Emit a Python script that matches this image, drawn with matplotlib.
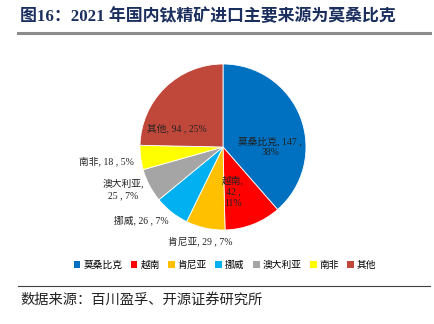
import matplotlib.pyplot as plt
from matplotlib.patches import Patch
from matplotlib.lines import Line2D

plt.rcParams['font.family'] = ['Liberation Serif', 'Noto Sans CJK SC']

# 2021 titanium concentrate imports by source (10k tonnes)
countries = ['莫桑比克', '越南', '肯尼亚', '挪威', '澳大利亚', '南非', '其他']
values = [147, 42, 29, 26, 25, 18, 94]
shares = [38, 11, 7, 7, 7, 5, 25]
colors = ['#0070C0', '#FF0000', '#FFC000', '#00B0F0', '#A5A5A5', '#FFFF00', '#C0483B']

# label text layout: (x, y) in pie units, line breaks
label_pos = [(0.57, 0.0), (0.12, -0.54), (-0.28, -1.14), (-0.98, -0.89),
             (-1.20, -0.51), (-1.40, -0.17), (-0.55, 0.22)]
label_fmt = ['{c}, {v} ,\n{p}%', '{c},\n{v} ,\n{p}%', '{c}, {v} , {p}%',
             '{c}, {v} , {p}%', '{c},\n{v} , {p}%', '{c}, {v} , {p}%',
             '{c}, {v} , {p}%']

W, H = 434, 324
fig = plt.figure(figsize=(W / 100, H / 100), dpi=100)

# title and rules
fig.text(20 / W, 1 - 17 / H, '图16：2021 年国内钛精矿进口主要来源为莫桑比克',
         fontsize=12.2, fontweight='bold', color='#1B2F5E', va='center', ha='left')
fig.add_artist(Line2D([18 / W, 430 / W], [1 - 33 / H, 1 - 33 / H],
                      color='#8C8C8C', lw=2.2))
fig.add_artist(Line2D([18 / W, 430 / W], [1 - 286 / H, 1 - 286 / H],
                      color='#404040', lw=0.8))
fig.text(20 / W, 1 - 300 / H, '数据来源：百川盈孚、开源证券研究所',
         fontsize=10.3, color='#222222', va='center', ha='left')

# pie, clockwise from 12 o'clock
cx, cy, r = 223, 147, 83
ax = fig.add_axes([(cx - r) / W, 1 - (cy + r) / H, 2 * r / W, 2 * r / H])
ax.pie(values, colors=colors, startangle=90, counterclock=False, radius=1,
       wedgeprops=dict(edgecolor='white', linewidth=0.6))
ax.set_xlim(-1, 1)
ax.set_ylim(-1, 1)
ax.set_aspect('equal')
ax.axis('off')

for c, v, p, (x, y), fmt in zip(countries, values, shares, label_pos, label_fmt):
    ax.text(x, y, fmt.format(c=c, v=v, p=p), ha='center', va='center',
            fontsize=7, color='#222222', linespacing=1.3, clip_on=False)

handles = [Patch(facecolor=col, edgecolor='none', label=c) for c, col in zip(countries, colors)]
fig.legend(handles=handles, loc='center', bbox_to_anchor=(225 / W, 1 - 265 / H),
           ncol=7, frameon=False, fontsize=7, handlelength=0.7, handleheight=0.7,
           handletextpad=0.3, columnspacing=0.85)

fig.savefig('out.png', dpi=100)
